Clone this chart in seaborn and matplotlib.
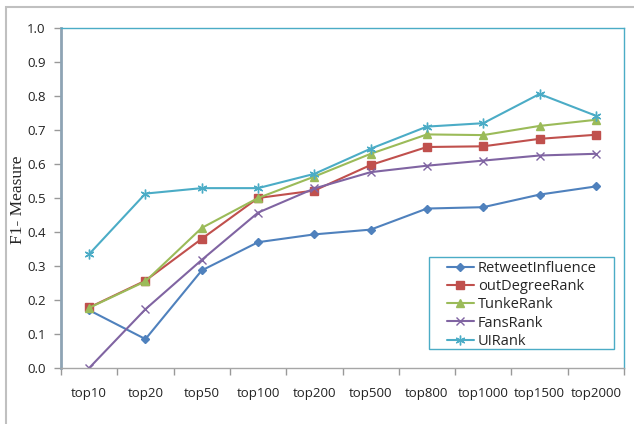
import matplotlib
matplotlib.use("Agg")
import matplotlib.pyplot as plt
from matplotlib.patches import Rectangle
from matplotlib.ticker import FixedLocator
import pandas as pd
import seaborn as sns

sns.set_style("white")
plt.rcParams["font.family"] = ["Open Sans", "DejaVu Sans"]

# data
categories = ["top10", "top20", "top50", "top100", "top200", "top500",
              "top800", "top1000", "top1500", "top2000"]
retweet_influence = [0.170, 0.085, 0.287, 0.370, 0.393, 0.407, 0.469, 0.473, 0.510, 0.534]
out_degree_rank = [0.178, 0.257, 0.380, 0.500, 0.522, 0.597, 0.650, 0.652, 0.674, 0.686]
tunke_rank = [0.177, 0.255, 0.412, 0.500, 0.563, 0.630, 0.687, 0.685, 0.712, 0.730]
fans_rank = [0.000, 0.173, 0.318, 0.457, 0.528, 0.576, 0.595, 0.610, 0.625, 0.630]
ui_rank = [0.335, 0.513, 0.529, 0.529, 0.571, 0.645, 0.710, 0.720, 0.806, 0.742]

series = {
    "RetweetInfluence": retweet_influence,
    "outDegreeRank": out_degree_rank,
    "TunkeRank": tunke_rank,
    "FansRank": fans_rank,
    "UIRank": ui_rank,
}
df = pd.concat([pd.DataFrame({"method": k, "rank": categories, "f1": v})
                for k, v in series.items()])

colors = ["#4F81BD", "#C0504D", "#9BBB59", "#8064A2", "#4BACC6"]
markers = ["D", "s", "^", "x", (6, 2, 0)]
sizes = [4.5, 5.5, 6, 6, 7]

fig = plt.figure(figsize=(6.34, 4.24), dpi=100)
ax = fig.add_axes([61 / 634, 56 / 424, 563 / 634, 340 / 424])

for (name, _), c, m, ms in zip(series.items(), colors, markers, sizes):
    sns.lineplot(data=df[df["method"] == name], x="rank", y="f1", sort=False,
                 color=c, marker=m, markersize=ms, markeredgecolor=c,
                 markeredgewidth=1.0, linewidth=1.5, label=name, ax=ax)

ax.set_xlim(-0.5, 9.5)
ax.set_ylim(0, 1.0)
ax.set_yticks([i / 10 for i in range(11)])
ax.set_yticklabels([f"{i / 10:.1f}" for i in range(11)], fontsize=9.5, color="#222222")
ax.tick_params(axis="y", direction="out", length=5, width=1, color="#999999", left=True, pad=6)
ax.xaxis.set_minor_locator(FixedLocator([i - 0.5 for i in range(11)]))
ax.tick_params(axis="x", which="major", length=0, pad=14, labelsize=9.5, colors="#222222")
ax.tick_params(axis="x", which="minor", direction="out", length=5, width=1, color="#999999", bottom=True)
ax.set_xlabel("")
ax.set_ylabel("F1- Measure", family=["Liberation Serif"], fontsize=12.5)
ax.yaxis.set_label_coords(-0.063, 0.494)

ax.spines["left"].set_color("#8EA4B4")
ax.spines["left"].set_linewidth(2)
ax.spines["bottom"].set_color("#A6A6A6")
ax.spines["top"].set_color("#4BACC6")
ax.spines["right"].set_color("#4BACC6")
for s in ["bottom", "top", "right"]:
    ax.spines[s].set_linewidth(1)

leg = ax.legend(loc="upper left", bbox_to_anchor=(0.6856, 0.315), frameon=False,
                fontsize=10.5, handlelength=1.85, handletextpad=0.27,
                labelspacing=0.22, borderpad=0, borderaxespad=0)
# legend frame as in the reference
ax.add_patch(Rectangle((0.6536, 0.0559), 0.3286, 0.2706, transform=ax.transAxes,
                       fill=False, edgecolor="#4BACC6", linewidth=1, zorder=5))

# outer chart border (cropped at the right and bottom)
fig.add_artist(Rectangle((6 / 634, -0.1), 1.2, (424 - 7) / 424 + 0.1,
                         transform=fig.transFigure, fill=False,
                         edgecolor="#C0C0C0", linewidth=1.5))

fig.savefig("out.png", dpi=100)
